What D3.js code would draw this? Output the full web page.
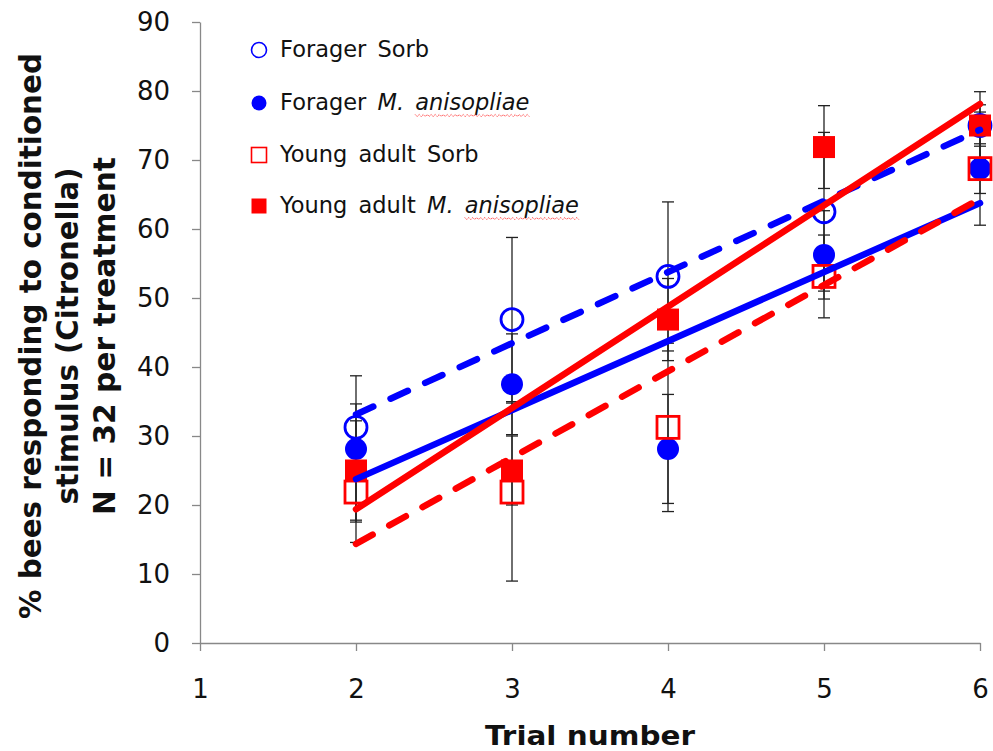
<!DOCTYPE html>
<html>
<head>
<meta charset="utf-8">
<script src="https://cdn.jsdelivr.net/npm/d3@7"></script>
<style>
  body { margin: 0; background: #fff; }
  svg { display: block; }
  .tick text { font-family: "DejaVu Sans", Verdana, sans-serif; font-size: 26px; fill: #111; }
  .axis path, .axis line { stroke: #888; stroke-width: 1.3; }
</style>
</head>
<body>
<div class="graph"></div>
<script>
// data (% of 32 bees per trial)
const trials = [2, 3, 4, 5, 6];
const foragerSorb = [31.25, 46.875, 53.125, 62.5, 75];
const foragerSorbErr = [3.4, 11.9, 10.8, 11.5, 3.0];
const foragerMa = [28.125, 37.5, 28.125, 56.25, 68.75];
const foragerMaErr = [10.6, 7.3, 7.9, 6.4, 3.6];
const youngSorb = [21.875, 21.875, 31.25, 53.125, 68.75];
const youngSorbErr = [7.3, 12.9, 12.2, 6.0, 8.2];
const youngMa = [25, 25, 46.875, 71.875, 75];
const youngMaErr = [7.2, 5.0, 5.95, 6.0, 4.9];

const xTicks = [1, 2, 3, 4, 5, 6];
const yTicks = [0, 10, 20, 30, 40, 50, 60, 70, 80, 90];

const series = [
    { name: "Forager Sorb", ital: "", values: foragerSorb, err: foragerSorbErr, color: "#0000ff", shape: "circle", filled: false, dash: true },
    { name: "Forager ", ital: "M. anisopliae", values: foragerMa, err: foragerMaErr, color: "#0000ff", shape: "circle", filled: true, dash: false },
    { name: "Young adult Sorb", ital: "", values: youngSorb, err: youngSorbErr, color: "#ff0000", shape: "square", filled: false, dash: true },
    { name: "Young adult ", ital: "M. anisopliae", values: youngMa, err: youngMaErr, color: "#ff0000", shape: "square", filled: true, dash: false }
];

const W = 993, H = 751;
const svg = d3.select(".graph").append("svg").attr("width", W).attr("height", H);

const x = d3.scaleLinear().domain([1, 6]).range([200, 980]);
const y = d3.scaleLinear().domain([0, 90]).range([643, 22]);

// axes
svg.append("g").attr("class", "axis")
    .attr("transform", "translate(200,0)")
    .call(d3.axisLeft(y).tickValues(yTicks).tickSize(8).tickPadding(22).tickSizeOuter(0));

svg.append("g").attr("class", "axis")
    .attr("transform", "translate(0,643)")
    .call(d3.axisBottom(x).tickValues(xTicks).tickFormat(d3.format("d"))
        .tickSize(8).tickPadding(29).tickSizeOuter(0));

// axis titles
svg.append("text")
    .attr("x", 590).attr("y", 745)
    .attr("text-anchor", "middle")
    .style("font-family", "'DejaVu Sans', Verdana, sans-serif")
    .style("font-weight", "bold").style("font-size", "27px").style("fill", "#111")
    .attr("textLength", 210).attr("lengthAdjust", "spacingAndGlyphs")
    .text("Trial number");

const yTitle = [
    { t: "% bees responding to conditioned", bx: 41, len: 566 },
    { t: "stimulus (Citronella)", bx: 78, len: 337 },
    { t: "N = 32 per treatment", bx: 115, len: 358 }
];
yTitle.forEach(l => {
    svg.append("text")
        .attr("transform", "translate(" + l.bx + ",336) rotate(-90)")
        .attr("text-anchor", "middle")
        .style("font-family", "'DejaVu Sans', Verdana, sans-serif")
        .style("font-weight", "bold").style("font-size", "31px").style("fill", "#111")
        .attr("textLength", l.len).attr("lengthAdjust", "spacingAndGlyphs")
        .text(l.t);
});

// error bars
const capW = 6;
series.forEach(s => {
    const g = svg.append("g").attr("stroke", "#222").attr("stroke-width", 1.3);
    trials.forEach((t, i) => {
        const hi = y(s.values[i] + s.err[i]), lo = y(s.values[i] - s.err[i]);
        g.append("line").attr("x1", x(t)).attr("x2", x(t)).attr("y1", hi).attr("y2", lo);
        g.append("line").attr("x1", x(t) - capW).attr("x2", x(t) + capW).attr("y1", hi).attr("y2", hi);
        g.append("line").attr("x1", x(t) - capW).attr("x2", x(t) + capW).attr("y1", lo).attr("y2", lo);
    });
});

// markers
function drawMarker(g, s, cx, cy, size, sw) {
    if (s.shape === "circle") {
        g.append("circle").attr("cx", cx).attr("cy", cy).attr("r", size)
            .attr("fill", s.filled ? s.color : "none")
            .attr("stroke", s.color).attr("stroke-width", s.filled ? 0 : sw);
    } else {
        g.append("rect").attr("x", cx - size).attr("y", cy - size)
            .attr("width", size * 2).attr("height", size * 2)
            .attr("fill", s.filled ? s.color : "none")
            .attr("stroke", s.color).attr("stroke-width", s.filled ? 0 : sw);
    }
}

series.forEach(s => {
    const g = svg.append("g");
    trials.forEach((t, i) => drawMarker(g, s, x(t), y(s.values[i]), 11, 2.8));
});

// linear trend lines (least squares on each series)
function fit(xs, ys) {
    const mx = d3.mean(xs), my = d3.mean(ys);
    const b = d3.sum(xs, (v, i) => (v - mx) * (ys[i] - my)) / d3.sum(xs, v => (v - mx) * (v - mx));
    return v => my + b * (v - mx);
}

series.forEach(s => {
    const f = fit(trials, s.values);
    const ends = [d3.min(trials), d3.max(trials)];
    svg.append("path")
        .datum(ends)
        .attr("d", d3.line().x(d => x(d)).y(d => y(f(d))))
        .attr("fill", "none")
        .attr("stroke", s.color)
        .attr("stroke-width", 6.5)
        .attr("stroke-linecap", "round")
        .attr("stroke-dasharray", s.dash ? "19,19" : null);
});

// legend
const legendY = [50, 103, 155, 206];
series.forEach((s, i) => {
    const g = svg.append("g");
    drawMarker(g, s, 259, legendY[i], 7.5, 1.6);
    const txt = g.append("text")
        .attr("x", 280).attr("y", legendY[i] + 7)
        .style("font-family", "'DejaVu Sans', Verdana, sans-serif")
        .style("font-size", "22.5px").style("word-spacing", "4px").style("fill", "#111");
    txt.append("tspan").text(s.name);
    if (s.ital) {
        txt.append("tspan").style("font-style", "italic").text(s.ital);
        // spell-check squiggle under the species name
        const full = s.name + s.ital;
        const k = full.indexOf("anisopliae");
        const node = txt.node();
        const x0 = node.getStartPositionOfChar(k).x;
        const x1 = node.getEndPositionOfChar(full.length - 1).x;
        const yb = legendY[i] + 12;
        const pts = [];
        for (let px = x0, j = 0; px <= x1; px += 2, j++) pts.push([px, yb + (j % 2 ? 1.5 : -0.5)]);
        g.append("path").attr("d", d3.line()(pts))
            .attr("fill", "none").attr("stroke", "#ff3030")
            .attr("stroke-width", 1).attr("stroke-dasharray", "1.5,1");
    }
});
</script>
</body>
</html>
